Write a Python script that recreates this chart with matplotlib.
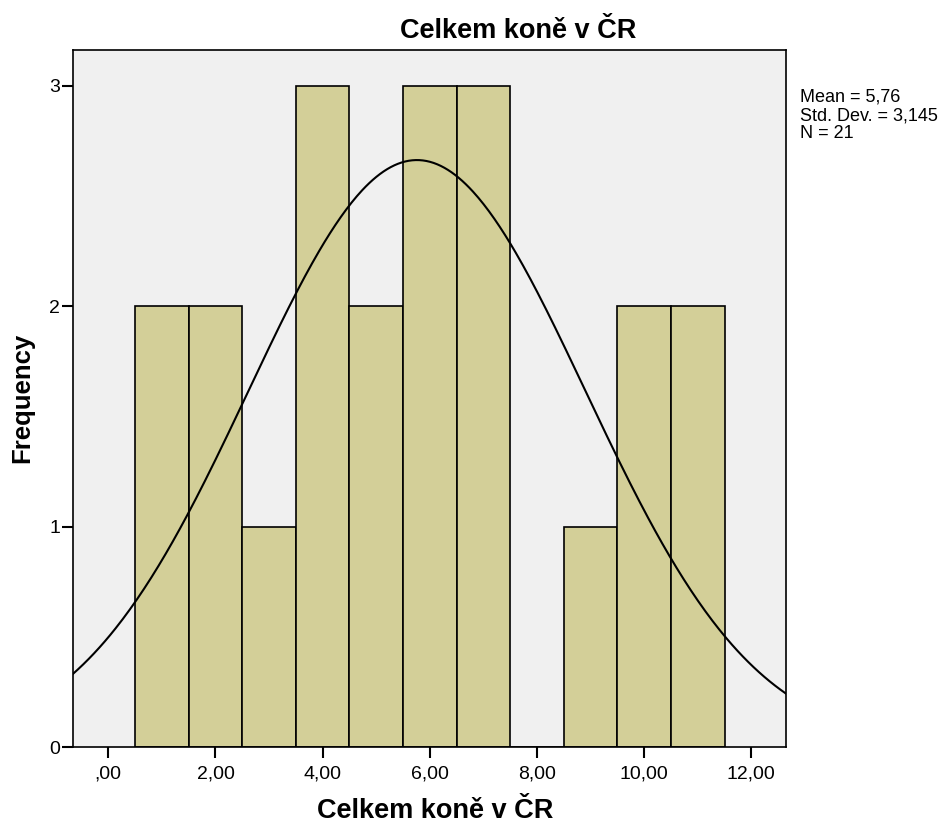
import numpy as np
import matplotlib.pyplot as plt

plt.rcParams['font.family'] = ['Liberation Sans', 'DejaVu Sans']

# Histogram data (bin centers and counts)
bin_centers = [1, 2, 3, 4, 5, 6, 7, 8, 9, 10, 11]
counts = [2, 2, 1, 3, 2, 3, 3, 0, 1, 2, 2]
bin_width = 1.0

# Summary statistics shown in the chart
mean = 5.76
std_dev = 3.145
n = 21

x_ticks = [0, 2, 4, 6, 8, 10, 12]
x_tick_labels = [",00", "2,00", "4,00", "6,00", "8,00", "10,00", "12,00"]
y_ticks = [0, 1, 2, 3]

fig = plt.figure(figsize=(9.45, 8.25), dpi=100)
ax = fig.add_axes([0.0769, 0.0945, 0.7545, 0.8448])
ax.set_facecolor("#F0F0F0")

ax.bar(bin_centers, counts, width=bin_width, color="#D3CF98",
       edgecolor="black", linewidth=1.2, zorder=2)

# Fitted normal curve
xs = np.linspace(-0.664, 12.64, 400)
ys = n * bin_width / (std_dev * np.sqrt(2 * np.pi)) * np.exp(-0.5 * ((xs - mean) / std_dev) ** 2)
ax.plot(xs, ys, color="black", linewidth=1.5, zorder=3)

ax.set_xlim(-0.664, 12.64)
ax.set_ylim(0, 3.163)

ax.set_xticks(x_ticks)
ax.set_xticklabels(x_tick_labels, fontsize=14)
ax.set_yticks(y_ticks)
ax.set_yticklabels([str(v) for v in y_ticks], fontsize=14)
ax.tick_params(axis="x", direction="out", length=8, width=1.5, pad=5)
ax.tick_params(axis="y", direction="out", length=8, width=1.5, pad=1)

for side in ax.spines.values():
    side.set_linewidth(1.2)
    side.set_color("black")

fig.text(22 / 945, 1 - 398 / 825, "Frequency", fontsize=18.5, fontweight="bold",
         rotation=90, ha="center", va="center")
fig.text(435 / 945, 1 - 811 / 825, "Celkem koně v ČR", fontsize=19.5,
         fontweight="bold", ha="center", va="center")
fig.text(518 / 945, 1 - 31 / 825, "Celkem koně v ČR", fontsize=19.5,
         fontweight="bold", ha="center", va="center")

fig.text(800 / 945, 1 - 89 / 825,
         "Mean = 5,76\nStd. Dev. = 3,145\nN = 21",
         fontsize=13, ha="left", va="top", linespacing=1.08)

fig.savefig("out.png", dpi=100)
